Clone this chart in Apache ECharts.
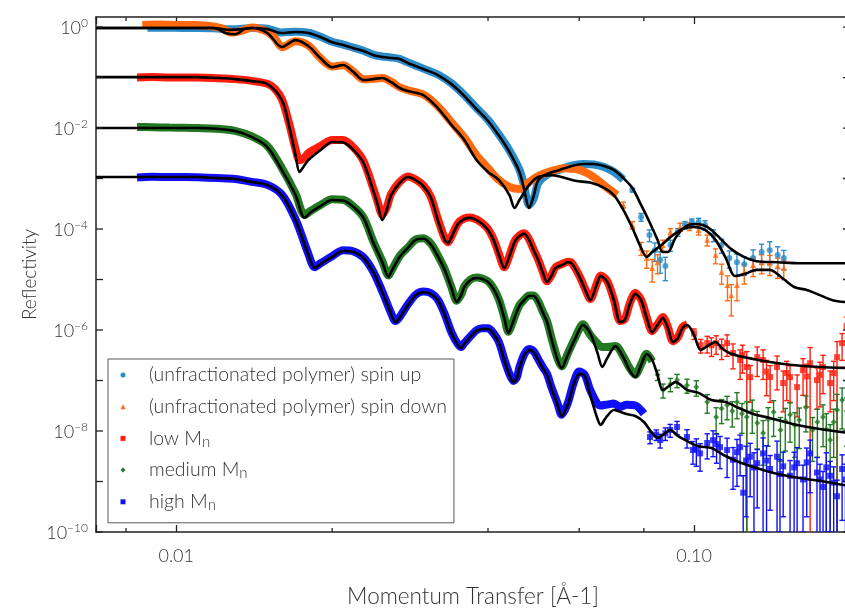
<!DOCTYPE html>
<html><head><meta charset="utf-8">
<script src="https://cdn.jsdelivr.net/npm/echarts@6/dist/echarts.min.js"></script>
<style>html,body{margin:0;padding:0;background:#fff}#c{width:845px;height:608px}</style>
</head><body><div id="c"></div>
<script>
const FONT = 'Lato, "Open Sans", sans-serif';
const FW = 300;
const seriesNames = ['(unfractionated polymer) spin up', '(unfractionated polymer) spin down', 'low Mn', 'medium Mn', 'high Mn'];
const seriesColors = ['#2b8cc9', '#ff6a10', '#ff1e0e', '#237a23', '#1010f8'];
const seriesIcons = ['circle', 'triangle', 'rect', 'diamond', 'rect'];
const xMinorTicks = [0.008, 0.02, 0.04, 0.06, 0.08];
const yTickValues = [1e-10, 1e-9, 1e-8, 1e-7, 1e-6, 1e-5, 1e-4, 1e-3, 1e-2, 1e-1, 1];

// ---- measured data (smooth region) [q, R]
const upData = [[0.0088,0.97],[0.0095,0.97],[0.0103,0.96],[0.011,0.96],[0.0118,0.95],[0.0127,0.9],[0.0133,0.91],[0.014,0.96],[0.015,0.93],[0.016,0.78],[0.017,0.81],[0.018,0.77],[0.019,0.64],[0.020,0.51],[0.021,0.45],[0.022,0.39],[0.023,0.34],[0.024,0.285],[0.025,0.26],[0.026,0.25],[0.027,0.235],[0.028,0.2],[0.030,0.15],[0.032,0.115],[0.034,0.077],[0.036,0.045],[0.038,0.025],[0.040,0.0145],[0.042,0.0074],[0.044,0.0036],[0.046,0.0015],[0.047,7.0e-4],[0.048,3.0e-4],[0.049,4.0e-4],[0.050,8.0e-4],[0.052,1.2e-3],[0.055,1.5e-3],[0.058,1.8e-3],[0.061,1.95e-3],[0.064,1.9e-3],[0.067,1.7e-3],[0.070,1.35e-3],[0.073,9.5e-4]];
const downData = [[0.0086,1.1],[0.0093,1.12],[0.010,1.1],[0.0108,1.1],[0.0116,1.05],[0.0122,0.95],[0.0128,0.78],[0.0134,0.85],[0.014,0.98],[0.015,0.8],[0.0155,0.6],[0.016,0.40],[0.017,0.52],[0.018,0.43],[0.019,0.24],[0.020,0.165],[0.021,0.175],[0.022,0.13],[0.023,0.092],[0.024,0.095],[0.025,0.098],[0.026,0.083],[0.027,0.064],[0.028,0.056],[0.030,0.046],[0.032,0.027],[0.034,0.013],[0.036,0.0065],[0.038,0.0029],[0.040,0.0016],[0.042,9.3e-4],[0.044,6.8e-4],[0.046,6.2e-4],[0.048,8.5e-4],[0.050,1.12e-3],[0.053,1.4e-3],[0.056,1.6e-3],[0.060,1.48e-3],[0.064,1.07e-3],[0.068,6.5e-4],[0.071,4.7e-4]];
const lowData = [[0.0084,0.10],[0.009,0.102],[0.0097,0.10],[0.0104,0.10],[0.011,0.10],[0.012,0.097],[0.013,0.093],[0.014,0.086],[0.015,0.075],[0.0155,0.06],[0.016,0.037],[0.0165,0.013],[0.017,0.0038],[0.0173,2.3e-3],[0.0177,2.6e-3],[0.018,3.2e-3],[0.019,4.4e-3],[0.020,5.8e-3],[0.021,5.8e-3],[0.022,4.1e-3],[0.023,2.2e-3],[0.024,6.5e-4],[0.0245,3.4e-4],[0.025,1.9e-4],[0.0255,2.7e-4],[0.026,5.0e-4],[0.027,8.5e-4],[0.028,1.1e-3],[0.029,9.6e-4],[0.030,7.3e-4],[0.031,4.4e-4],[0.032,1.6e-4],[0.033,6.5e-5],[0.0335,5.5e-5],[0.034,7.1e-5],[0.035,1.3e-4],[0.036,1.62e-4],[0.037,1.7e-4],[0.038,1.55e-4],[0.039,1.3e-4],[0.040,1.0e-4],[0.041,6.3e-5],[0.042,3.2e-5],[0.043,1.75e-5],[0.044,3.0e-5],[0.045,5.7e-5],[0.046,7.5e-5],[0.047,8.2e-5],[0.048,6.3e-5],[0.049,3.9e-5],[0.050,2.5e-5],[0.051,1.45e-5],[0.052,9.2e-6],[0.053,1.2e-5],[0.054,1.75e-5],[0.056,2.1e-5],[0.057,2.25e-5],[0.058,2.15e-5],[0.060,1.2e-5],[0.062,5.6e-6],[0.063,4.1e-6],[0.065,8.8e-6],[0.066,1.2e-5],[0.068,9.2e-6],[0.070,4.0e-6],[0.072,1.5e-6],[0.0735,1.65e-6],[0.075,3.2e-6],[0.077,5.4e-6],[0.079,4.0e-6],[0.081,1.8e-6],[0.083,9.5e-7],[0.085,1.3e-6],[0.087,1.8e-6],[0.089,1.15e-6],[0.091,6.0e-7],[0.093,7.2e-7],[0.095,1.15e-6],[0.097,1.3e-6]];
const medData = [[0.0084,0.0105],[0.009,0.0104],[0.0097,0.0102],[0.0104,0.0101],[0.011,0.0100],[0.012,0.0097],[0.013,0.0088],[0.014,0.0068],[0.015,0.0044],[0.016,0.0016],[0.017,5.0e-4],[0.0177,1.9e-4],[0.0182,2.3e-4],[0.019,3.0e-4],[0.020,3.9e-4],[0.021,3.8e-4],[0.022,2.8e-4],[0.023,1.7e-4],[0.024,5.8e-5],[0.025,2.3e-5],[0.0257,1.2e-5],[0.026,1.45e-5],[0.027,2.9e-5],[0.028,4.3e-5],[0.029,6.2e-5],[0.030,6.6e-5],[0.031,5.2e-5],[0.032,3.0e-5],[0.033,1.6e-5],[0.034,7.0e-6],[0.0348,3.8e-6],[0.0355,5.0e-6],[0.036,7.3e-6],[0.037,1.0e-5],[0.038,1.1e-5],[0.039,1.05e-5],[0.040,9.2e-6],[0.041,6.7e-6],[0.042,4.0e-6],[0.043,1.8e-6],[0.0438,9.2e-7],[0.0445,1.3e-6],[0.045,1.8e-6],[0.046,3.1e-6],[0.047,4.0e-6],[0.048,4.8e-6],[0.049,4.8e-6],[0.050,3.7e-6],[0.051,2.35e-6],[0.052,1.5e-6],[0.053,7.2e-7],[0.0545,2.7e-7],[0.0555,1.9e-7],[0.057,3.4e-7],[0.059,7.2e-7],[0.061,1.3e-6],[0.063,8.0e-7],[0.065,5.5e-7],[0.0665,4.6e-7],[0.068,4.6e-7],[0.0705,4.8e-7],[0.073,3.0e-7],[0.075,1.8e-7],[0.077,1.3e-7],[0.079,2.1e-7],[0.081,3.4e-7],[0.083,2.4e-7]];
const highData = [[0.0084,1.05e-3],[0.009,1.08e-3],[0.0097,1.07e-3],[0.0104,1.07e-3],[0.011,1.06e-3],[0.012,1.02e-3],[0.013,9.8e-4],[0.014,8.6e-4],[0.015,7.5e-4],[0.016,4.8e-4],[0.017,1.55e-4],[0.018,3.2e-5],[0.0185,1.75e-5],[0.019,2.1e-5],[0.020,2.9e-5],[0.021,3.8e-5],[0.022,3.6e-5],[0.023,2.75e-5],[0.024,1.45e-5],[0.025,5.8e-6],[0.026,2.15e-6],[0.0265,1.5e-6],[0.027,1.8e-6],[0.028,3.2e-6],[0.029,5.0e-6],[0.030,5.8e-6],[0.031,5.4e-6],[0.032,4.0e-6],[0.033,2.05e-6],[0.034,9.0e-7],[0.035,5.2e-7],[0.0355,4.6e-7],[0.036,5.5e-7],[0.037,7.5e-7],[0.038,9.9e-7],[0.039,1.08e-6],[0.040,1.08e-6],[0.041,8.6e-7],[0.042,5.7e-7],[0.043,2.65e-7],[0.044,1.35e-7],[0.0448,9.8e-8],[0.0455,1.18e-7],[0.046,1.85e-7],[0.047,3.3e-7],[0.048,4.2e-7],[0.049,3.8e-7],[0.050,2.65e-7],[0.051,1.85e-7],[0.052,1.35e-7],[0.053,7.5e-8],[0.0545,3.5e-8],[0.0555,2.1e-8],[0.057,3.5e-8],[0.0585,8.8e-8],[0.060,1.5e-7],[0.0615,1.3e-7],[0.063,6.5e-8],[0.065,3.5e-8],[0.066,3.2e-8],[0.0675,3.3e-8],[0.070,3.5e-8],[0.072,3.0e-8],[0.074,3.3e-8],[0.077,3.2e-8],[0.080,2.2e-8]];

// ---- measured data (noisy high-q region) [q, R, dR]
const upTail = [[0.076,5.9e-4,5e-5],[0.079,1.73e-4,3e-5],[0.082,7.6e-5,2e-5],[0.084,3.8e-5,1.5e-5],[0.086,2.43e-5,1.1e-5],[0.088,1.85e-5,9e-6],[0.090,4.8e-5,1.2e-5],[0.093,8.7e-5,1.5e-5],[0.096,1.2e-4,2e-5],[0.099,1.38e-4,2e-5],[0.102,1.38e-4,2.5e-5],[0.105,1.2e-4,2.5e-5],[0.109,7.6e-5,2e-5],[0.113,4.8e-5,1.5e-5],[0.117,2.67e-5,1e-5],[0.121,2.2e-5,1e-5],[0.125,2.0e-5,8e-6],[0.130,2.67e-5,1.2e-5],[0.135,3.5e-5,1.5e-5],[0.140,3.8e-5,1.8e-5],[0.145,3.05e-5,1.4e-5],[0.149,2.67e-5,1.1e-5]];
const downTail = [[0.073,3.0e-4,4e-5],[0.076,1.2e-4,2e-5],[0.079,4.2e-5,1.2e-5],[0.081,2.67e-5,1e-5],[0.083,1.69e-5,8e-6],[0.085,2.2e-5,9e-6],[0.087,4.8e-5,1.2e-5],[0.090,8.7e-5,1.5e-5],[0.094,1.1e-4,2e-5],[0.098,1.13e-4,2e-5],[0.102,9.6e-5,2e-5],[0.106,6.1e-5,1.5e-5],[0.110,3.05e-5,1e-5],[0.113,1.41e-5,6e-6],[0.116,7.8e-6,4e-6],[0.118,4.9e-6,3e-6],[0.121,7.8e-6,4e-6],[0.125,1.41e-5,6e-6],[0.130,1.94e-5,8e-6],[0.135,2.2e-5,9e-6],[0.140,2.1e-5,9e-6],[0.145,1.85e-5,8e-6],[0.149,1.69e-5,7e-6]];
const lowTail = [[0.100,8.5e-7,2e-7],[0.103,5.0e-7,1.5e-7],[0.106,5.5e-7,2e-7],[0.108,5.0e-7,2e-7],[0.1103,5.5e-7,2.2e-7],[0.113,4.6e-7,2e-7],[0.1158,5.5e-7,2.5e-7],[0.1189,3.5e-7,1.8e-7],[0.1227,2.55e-7,1.5e-7],[0.124,3.2e-7,1.8e-7],[0.1264,1.85e-7,1.9e-7],[0.1283,1.17e-7,8e-8],[0.1324,2.9e-7,1.7e-7],[0.1359,2.55e-7,1.5e-7],[0.138,1.5e-7,1e-7],[0.1402,1.17e-7,8e-8],[0.1446,1.85e-7,1.2e-7],[0.1486,8.9e-8,6.5e-8],[0.151,1.4e-7,1e-7],[0.1532,1.17e-7,8e-8],[0.1581,7.4e-8,5.5e-8],[0.1623,1.61e-7,1.1e-7],[0.165,1.2e-7,9e-8],[0.1675,2.2e-7,2.3e-7],[0.1727,1.02e-7,7.5e-8],[0.175,1.3e-7,1e-7],[0.1774,1.85e-7,1.3e-7],[0.1831,8.9e-8,6.5e-8],[0.186,1.4e-7,1e-7],[0.1888,2.9e-7,3e-7],[0.1931,5.5e-7,3e-7],[0.197,1.2e-6,6e-7]];
const medTail = [[0.085,1.3e-7,3e-8],[0.0871,6.5e-8,2e-8],[0.090,8.5e-8,2.5e-8],[0.0927,1.02e-7,3e-8],[0.0969,8.1e-8,2.5e-8],[0.101,7.4e-8,2.5e-8],[0.106,3.75e-8,1.5e-8],[0.1103,1.89e-8,1e-8],[0.113,2.8e-8,1.4e-8],[0.1158,3.27e-8,1.6e-8],[0.1185,2.5e-8,1.3e-8],[0.121,3.75e-8,2e-8],[0.1237,2.2e-8,1.3e-8],[0.1264,1.89e-8,1.9e-8],[0.1295,2.5e-8,1.6e-8],[0.1324,1.44e-8,1e-8],[0.1359,9.1e-9,7e-9],[0.139,1.7e-8,1.2e-8],[0.1424,2.38e-8,1.6e-8],[0.1468,1.05e-8,8e-9],[0.150,1.6e-8,1.2e-8],[0.1532,2.1e-8,1.5e-8],[0.1565,1.3e-8,1e-8],[0.1596,1.65e-8,1.2e-8],[0.1644,2.96e-8,2e-8],[0.1693,1.05e-8,8e-9],[0.173,1.5e-8,1.2e-8],[0.1774,1.89e-8,1.4e-8],[0.180,1.1e-8,1.1e-8],[0.1831,6.6e-9,6.8e-9],[0.186,1.5e-8,1.2e-8],[0.1888,2.61e-8,2.7e-8],[0.1931,4.1e-8,3e-8],[0.197,2.5e-8,2e-8]];
const highTail = [[0.0822,7.6e-9,2e-9],[0.0845,8.5e-9,2e-9],[0.086,6.6e-9,2e-9],[0.088,9.0e-9,2.5e-9],[0.0899,1.05e-8,3e-9],[0.0927,1.2e-8,3.5e-9],[0.0969,7.6e-9,3e-9],[0.0995,4.2e-9,2e-9],[0.101,4.5e-9,2.5e-9],[0.1027,3.6e-9,2e-9],[0.106,5.8e-9,3e-9],[0.1088,6.6e-9,3.5e-9],[0.1105,5.5e-9,3.2e-9],[0.1122,4.8e-9,3e-9],[0.1158,4.2e-9,3e-9],[0.1189,2.7e-9,2e-9],[0.121,3.8e-9,3e-9],[0.1227,4.8e-9,3.5e-9],[0.1244,6.0e-10,7e-10],[0.126,2.6e-9,2.4e-9],[0.1283,3.1e-9,2.6e-9],[0.1305,1.9e-9,1.8e-9],[0.1324,2.3e-9,2e-9],[0.1359,3.6e-9,3.7e-9],[0.138,2.6e-9,2.5e-9],[0.1402,1.77e-9,1.5e-9],[0.1446,3.1e-9,3.2e-9],[0.1465,1.4e-9,1.3e-9],[0.1486,2.0e-9,1.8e-9],[0.1532,1.3e-9,1.3e-9],[0.156,1.9e-9,1.9e-9],[0.1581,2.3e-9,2.4e-9],[0.1623,1.1e-9,1.0e-9],[0.165,2.4e-9,2.2e-9],[0.1675,3.6e-9,3e-9],[0.1727,1.5e-9,1.5e-9],[0.175,1.1e-9,1.1e-9],[0.1774,7.8e-10,8e-10],[0.180,1.9e-9,1.8e-9],[0.1831,1.3e-9,1.2e-9],[0.186,9.5e-10,1e-9],[0.1888,5.1e-10,5.5e-10],[0.1931,1.77e-9,1.6e-9],[0.196,1.1e-9,1.1e-9]];

// ---- model fits [q, R]
const upFit = [[0.007,0.955],[0.009,0.955],[0.0118,0.955],[0.0127,0.88],[0.0133,0.9],[0.014,0.955],[0.015,0.91],[0.016,0.76],[0.017,0.80],[0.018,0.76],[0.019,0.63],[0.020,0.50],[0.021,0.44],[0.022,0.38],[0.023,0.335],[0.024,0.279],[0.025,0.255],[0.026,0.243],[0.027,0.232],[0.028,0.194],[0.030,0.147],[0.032,0.112],[0.034,0.074],[0.036,0.043],[0.038,0.0238],[0.040,0.0138],[0.042,0.0070],[0.044,0.00335],[0.046,0.00135],[0.047,5.9e-4],[0.048,2.6e-4],[0.049,4.5e-4],[0.050,9.3e-4],[0.052,1.23e-3],[0.055,1.48e-3],[0.058,1.77e-3],[0.061,1.94e-3],[0.064,1.94e-3],[0.067,1.77e-3],[0.070,1.48e-3],[0.073,1.02e-3],[0.076,6.5e-4],[0.079,3.0e-4],[0.082,1.38e-4],[0.085,6.1e-5],[0.087,3.5e-5],[0.089,3.5e-5],[0.092,6.6e-5],[0.096,1.10e-4],[0.100,1.26e-4],[0.104,1.2e-4],[0.108,9.6e-5],[0.113,6.1e-5],[0.118,4.0e-5],[0.124,2.9e-5],[0.132,2.3e-5],[0.145,2.2e-5],[0.160,2.1e-5],[0.180,2.1e-5],[0.200,2.1e-5]];
const downFit = [[0.007,0.955],[0.011,0.955],[0.0118,0.955],[0.0125,0.75],[0.013,0.72],[0.0136,0.93],[0.014,0.955],[0.015,0.76],[0.016,0.40],[0.017,0.55],[0.018,0.42],[0.019,0.24],[0.020,0.16],[0.021,0.177],[0.022,0.128],[0.023,0.089],[0.024,0.093],[0.025,0.098],[0.026,0.081],[0.027,0.062],[0.028,0.054],[0.030,0.045],[0.032,0.0249],[0.034,0.0115],[0.036,0.0058],[0.038,0.00232],[0.040,0.00135],[0.042,9.3e-4],[0.044,4.7e-4],[0.045,2.6e-4],[0.046,3.75e-4],[0.048,7.4e-4],[0.050,1.07e-3],[0.053,1.16e-3],[0.055,1.1e-3],[0.059,9.0e-4],[0.063,8.3e-4],[0.067,6.5e-4],[0.070,4.7e-4],[0.073,2.4e-4],[0.076,1.05e-4],[0.079,4.2e-5],[0.081,2.8e-5],[0.083,3.5e-5],[0.086,4.6e-5],[0.090,6.9e-5],[0.095,1.0e-4],[0.100,1.1e-4],[0.105,9.6e-5],[0.110,6.1e-5],[0.115,2.7e-5],[0.120,1.17e-5],[0.125,1.28e-5],[0.132,1.55e-5],[0.140,1.55e-5],[0.148,1.07e-5],[0.156,7.1e-6],[0.165,6.2e-6],[0.175,4.9e-6],[0.185,3.9e-6],[0.200,3.5e-6]];
const lowFit = [[0.007,0.102],[0.011,0.102],[0.012,0.098],[0.013,0.093],[0.014,0.085],[0.015,0.074],[0.016,0.0358],[0.0165,0.0115],[0.017,0.0029],[0.0173,1.35e-3],[0.0177,1.85e-3],[0.018,2.32e-3],[0.019,3.66e-3],[0.020,5.3e-3],[0.021,5.2e-3],[0.022,3.66e-3],[0.023,2.03e-3],[0.024,5.9e-4],[0.0245,3.0e-4],[0.025,1.5e-4],[0.0255,2.4e-4],[0.026,4.7e-4],[0.027,8.1e-4],[0.028,1.07e-3],[0.029,9.3e-4],[0.030,7.1e-4],[0.031,4.3e-4],[0.032,1.5e-4],[0.033,6.1e-5],[0.0335,5.3e-5],[0.034,6.9e-5],[0.035,1.26e-4],[0.036,1.58e-4],[0.037,1.66e-4],[0.038,1.5e-4],[0.039,1.26e-4],[0.040,9.6e-5],[0.041,6.1e-5],[0.042,3.05e-5],[0.043,1.69e-5],[0.044,2.9e-5],[0.045,5.5e-5],[0.046,7.3e-5],[0.047,8.0e-5],[0.048,6.1e-5],[0.049,3.8e-5],[0.050,2.43e-5],[0.051,1.41e-5],[0.052,8.9e-6],[0.053,1.17e-5],[0.054,1.69e-5],[0.056,2.0e-5],[0.057,2.2e-5],[0.058,2.1e-5],[0.060,1.17e-5],[0.062,5.4e-6],[0.063,3.9e-6],[0.065,8.5e-6],[0.066,1.17e-5],[0.068,8.9e-6],[0.070,3.9e-6],[0.072,1.44e-6],[0.0735,1.58e-6],[0.075,3.1e-6],[0.077,5.2e-6],[0.079,3.9e-6],[0.081,1.73e-6],[0.083,9.1e-7],[0.085,1.26e-6],[0.087,1.73e-6],[0.089,1.10e-6],[0.091,5.8e-7],[0.093,6.9e-7],[0.095,1.10e-6],[0.097,1.26e-6],[0.100,7.9e-7],[0.103,4.0e-7],[0.106,4.8e-7],[0.110,5.8e-7],[0.113,4.4e-7],[0.117,3.5e-7],[0.122,3.06e-7],[0.130,2.67e-7],[0.140,2.32e-7],[0.155,2.03e-7],[0.175,1.85e-7],[0.200,1.77e-7]];
const medFit = [[0.007,0.0100],[0.011,0.0100],[0.012,0.0096],[0.013,0.0087],[0.014,0.0066],[0.015,0.0042],[0.016,0.00147],[0.017,4.7e-4],[0.0177,1.66e-4],[0.0182,2.17e-4],[0.019,2.85e-4],[0.020,3.75e-4],[0.021,3.66e-4],[0.022,2.73e-4],[0.023,1.66e-4],[0.024,5.5e-5],[0.025,2.2e-5],[0.0257,1.12e-5],[0.026,1.41e-5],[0.027,2.8e-5],[0.028,4.2e-5],[0.029,6.1e-5],[0.030,6.4e-5],[0.031,5.0e-5],[0.032,2.9e-5],[0.033,1.54e-5],[0.034,6.8e-6],[0.0348,3.6e-6],[0.0355,4.9e-6],[0.036,7.1e-6],[0.037,9.8e-6],[0.038,1.07e-5],[0.039,1.02e-5],[0.040,8.9e-6],[0.041,6.5e-6],[0.042,3.9e-6],[0.043,1.73e-6],[0.0438,8.7e-7],[0.0445,1.26e-6],[0.045,1.73e-6],[0.046,3.0e-6],[0.047,3.9e-6],[0.048,4.7e-6],[0.049,4.7e-6],[0.050,3.6e-6],[0.051,2.27e-6],[0.052,1.44e-6],[0.053,6.9e-7],[0.0545,2.55e-7],[0.0555,1.77e-7],[0.057,3.2e-7],[0.059,6.9e-7],[0.061,1.26e-6],[0.063,8.7e-7],[0.065,3.66e-7],[0.0665,1.85e-7],[0.068,2.8e-7],[0.0705,4.8e-7],[0.073,2.9e-7],[0.075,1.61e-7],[0.077,1.17e-7],[0.079,2.03e-7],[0.081,3.35e-7],[0.083,2.55e-7],[0.085,1.29e-7],[0.087,6.5e-8],[0.090,8.1e-8],[0.092,9.3e-8],[0.097,6.5e-8],[0.102,5.7e-8],[0.108,4.1e-8],[0.115,3.75e-8],[0.122,2.85e-8],[0.130,2.17e-8],[0.140,1.81e-8],[0.155,1.38e-8],[0.175,1.10e-8],[0.200,9.1e-9]];
const highFit = [[0.007,1.07e-3],[0.011,1.07e-3],[0.012,1.02e-3],[0.013,9.8e-4],[0.014,8.5e-4],[0.015,7.4e-4],[0.016,4.7e-4],[0.017,1.5e-4],[0.018,3.05e-5],[0.0185,1.69e-5],[0.019,2.03e-5],[0.020,2.8e-5],[0.021,3.66e-5],[0.022,3.5e-5],[0.023,2.67e-5],[0.024,1.41e-5],[0.025,5.6e-6],[0.026,2.07e-6],[0.0265,1.44e-6],[0.027,1.73e-6],[0.028,3.1e-6],[0.029,4.9e-6],[0.030,5.6e-6],[0.031,5.2e-6],[0.032,3.9e-6],[0.033,1.98e-6],[0.034,8.7e-7],[0.035,5.0e-7],[0.0355,4.4e-7],[0.036,5.3e-7],[0.037,7.3e-7],[0.038,9.6e-7],[0.039,1.05e-6],[0.040,1.05e-6],[0.041,8.3e-7],[0.042,5.5e-7],[0.043,2.55e-7],[0.044,1.29e-7],[0.0448,9.3e-8],[0.0455,1.12e-7],[0.046,1.77e-7],[0.047,3.2e-7],[0.048,4.0e-7],[0.049,3.66e-7],[0.050,2.55e-7],[0.051,1.77e-7],[0.052,1.29e-7],[0.053,7.1e-8],[0.0545,3.27e-8],[0.0555,1.98e-8],[0.057,3.27e-8],[0.0585,8.1e-8],[0.060,1.35e-7],[0.0615,1.23e-7],[0.063,5.2e-8],[0.065,1.81e-8],[0.066,1.32e-8],[0.0675,1.81e-8],[0.070,2.61e-8],[0.072,2.4e-8],[0.074,2.17e-8],[0.077,1.98e-8],[0.080,1.51e-8],[0.083,9.1e-9],[0.085,7.3e-9],[0.087,8.3e-9],[0.090,1.05e-8],[0.093,8.0e-9],[0.097,6.3e-9],[0.102,5.0e-9],[0.108,4.6e-9],[0.114,3.35e-9],[0.122,2.43e-9],[0.132,1.85e-9],[0.145,1.41e-9],[0.160,1.17e-9],[0.180,9.8e-10],[0.200,8.1e-10]];

const groups = [
  {data: upData, tail: upTail, fit: upFit},
  {data: downData, tail: downTail, fit: downFit},
  {data: lowData, tail: lowTail, fit: lowFit},
  {data: medData, tail: medTail, fit: medFit},
  {data: highData, tail: highTail, fit: highFit}
];

function errRender(color) {
  return function (params, api) {
    const cs = params.coordSys;
    const q = api.value(0), lo = api.value(1), hi = api.value(2);
    const p1 = api.coord([q, hi]);
    let p2 = api.coord([q, lo]);
    const bottom = cs.y + cs.height;
    let cap2 = true;
    if (!isFinite(p2[1]) || p2[1] > bottom) { p2 = [p1[0], bottom]; cap2 = false; }
    const st = {stroke: color, lineWidth: 1.4};
    const c = 2.7;
    const ch = [
      {type: 'line', shape: {x1: p1[0], y1: p1[1], x2: p2[0], y2: p2[1]}, style: st},
      {type: 'line', shape: {x1: p1[0] - c, y1: p1[1], x2: p1[0] + c, y2: p1[1]}, style: st}
    ];
    if (cap2) ch.push({type: 'line', shape: {x1: p2[0] - c, y1: p2[1], x2: p2[0] + c, y2: p2[1]}, style: st});
    return {type: 'group', children: ch};
  };
}

const series = [];
groups.forEach((g, i) => {
  series.push({
    type: 'line', name: seriesNames[i], data: g.data, smooth: 0.3, showSymbol: false,
    symbol: seriesIcons[i], lineStyle: {color: seriesColors[i], width: 8},
    itemStyle: {color: seriesColors[i]}, z: 2, silent: true
  });
});
groups.forEach((g, i) => {
  series.push({
    type: 'custom', name: seriesNames[i],
    data: g.tail.map(d => [d[0], Math.max(d[1] - d[2], 1e-13), d[1] + d[2]]),
    encode: {x: 0, y: [1, 2]}, renderItem: errRender(seriesColors[i]),
    itemStyle: {color: seriesColors[i]}, z: 3, silent: true, clip: true
  });
  series.push({
    type: 'scatter', name: seriesNames[i], data: g.tail.map(d => [d[0], d[1]]),
    symbol: seriesIcons[i], symbolSize: 6, itemStyle: {color: seriesColors[i]}, z: 4, silent: true
  });
});
groups.forEach((g, i) => {
  series.push({
    type: 'line', name: 'fit ' + i, data: g.fit, smooth: 0.3, showSymbol: false,
    lineStyle: {color: '#000', width: 2.6}, itemStyle: {color: '#000'}, z: 5, silent: true
  });
});
// minor x ticks (top and bottom edges)
series.push({
  type: 'custom', name: 'minor ticks', data: xMinorTicks.map(q => [q, 1e-5]), encode: {x: 0, y: 1},
  silent: true, z: 10,
  renderItem: function (params, api) {
    const cs = params.coordSys;
    const x = api.coord([api.value(0), 1e-5])[0];
    const b = cs.y + cs.height, t = cs.y;
    const st = {stroke: '#222', lineWidth: 1.3};
    return {type: 'group', children: [
      {type: 'line', shape: {x1: x, y1: b, x2: x, y2: b - 4}, style: st},
      {type: 'line', shape: {x1: x, y1: t, x2: x, y2: t + 4}, style: st}
    ]};
  }
});
// y ticks each decade on left and right edges, labels every second decade
series.push({
  type: 'custom', name: 'y ticks', data: yTickValues.map(v => [0.01, v]), encode: {x: 0, y: 1},
  silent: true, z: 10,
  renderItem: function (params, api) {
    const cs = params.coordSys;
    const v = api.value(1);
    const y = api.coord([0.01, v])[1];
    const l = cs.x, r = cs.x + cs.width;
    const st = {stroke: '#222', lineWidth: 1.3};
    const ch = [
      {type: 'line', shape: {x1: l, y1: y, x2: l + 7, y2: y}, style: st},
      {type: 'line', shape: {x1: r, y1: y, x2: r - 7, y2: y}, style: st}
    ];
    const e = Math.round(Math.log10(v));
    if (e % 2 === 0) {
      ch.push({type: 'text', x: l - 8, y: y, style: {
        text: '{b|10}{s|' + (e < 0 ? '\u2212' + (-e) : e) + '}', align: 'right', verticalAlign: 'middle',
        rich: {
          b: {fontFamily: FONT, fontWeight: FW, fontSize: 18, fill: '#333', lineHeight: 20, verticalAlign: 'bottom'},
          s: {fontFamily: FONT, fontWeight: FW, fontSize: 12, fill: '#333', lineHeight: 12, verticalAlign: 'top'}
        }
      }});
    }
    return {type: 'group', children: ch};
  }
});

const axisLineStyle = {color: '#222', width: 1.5};
const tickStyle = {color: '#222', width: 1.3};

const option = {
  animation: false,
  backgroundColor: '#fff',
  grid: {left: 96, top: 17, right: -5, bottom: 76, containLabel: false, outerBoundsMode: 'none'},
  legend: {
    orient: 'vertical', left: 108, top: 359, padding: [5, 7, 10, 12.5],
    borderColor: '#555', borderWidth: 1, itemWidth: 5, itemHeight: 5, itemGap: 9.7,
    selectedMode: false,
    data: seriesNames.map((n, i) => ({name: n, icon: seriesIcons[i]})),
    formatter: n => n.replace(/ Mn$/, ' M{sub|n}'),
    textStyle: {
      fontFamily: FONT, fontWeight: FW, fontSize: 19.5, color: '#333', padding: [0, 0, 0, 18.5], lineHeight: 22,
      rich: {sub: {fontFamily: FONT, fontWeight: FW, fontSize: 15, color: '#333', verticalAlign: 'bottom', lineHeight: 12}}
    }
  },
  xAxis: [{
    type: 'log', min: 0.007, max: 0.2, position: 'bottom',
    axisLine: {show: true, lineStyle: axisLineStyle},
    axisTick: {show: true, inside: true, length: 7, lineStyle: tickStyle},
    splitLine: {show: false},
    axisLabel: {
      margin: 15, fontFamily: FONT, fontWeight: FW, fontSize: 18, color: '#333',
      formatter: v => (Math.abs(v - 0.01) < 1e-9 ? '0.01' : (Math.abs(v - 0.1) < 1e-9 ? '0.10' : ''))
    },
    name: 'Momentum Transfer [Å-1]', nameLocation: 'middle', nameGap: 53,
    nameTextStyle: {fontFamily: FONT, fontWeight: FW, fontSize: 22.5, color: '#333'}
  }, {
    type: 'log', min: 0.007, max: 0.2, position: 'top',
    axisLine: {show: true, lineStyle: axisLineStyle},
    axisTick: {show: true, inside: true, length: 7, lineStyle: tickStyle},
    splitLine: {show: false}, axisLabel: {show: false}
  }],
  yAxis: [{
    type: 'log', min: 1e-10, max: 1.58, position: 'left',
    axisLine: {show: true, lineStyle: axisLineStyle},
    axisTick: {show: false}, splitLine: {show: false}, axisLabel: {show: false},
    name: 'Reflectivity', nameLocation: 'middle', nameGap: 57, nameRotate: 90,
    nameTextStyle: {fontFamily: FONT, fontWeight: FW, fontSize: 19, color: '#333'}
  }, {
    type: 'log', min: 1e-10, max: 1.58, position: 'right',
    axisLine: {show: true, lineStyle: axisLineStyle},
    axisTick: {show: false}, splitLine: {show: false}, axisLabel: {show: false}
  }],
  series: series
};

const chart = echarts.init(document.getElementById('c'));
chart.setOption(option);
</script>
</body></html>
